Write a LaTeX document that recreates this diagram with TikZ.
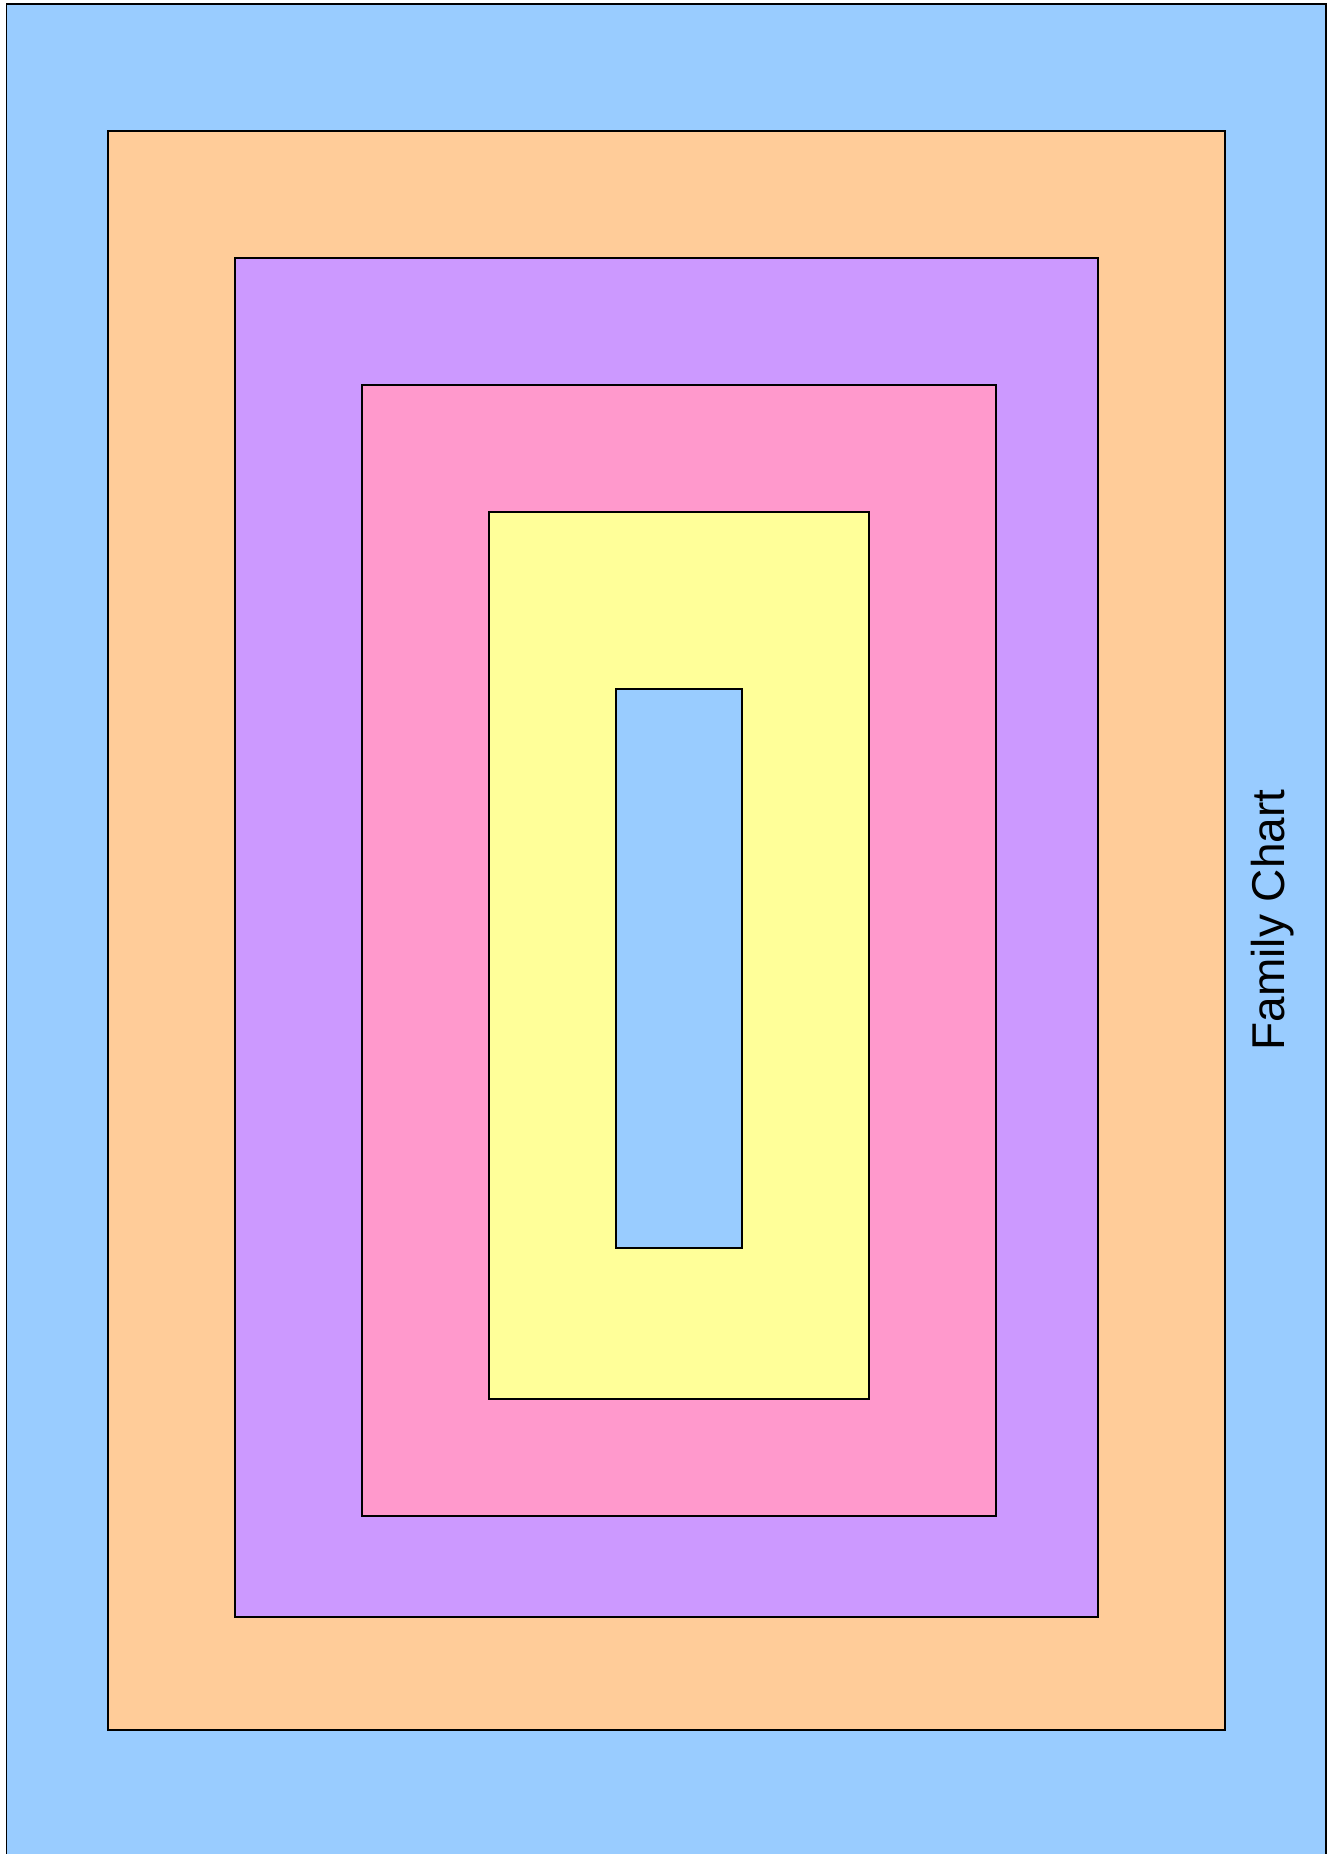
\documentclass[tikz,border=0pt]{standalone}
\usepackage{fontspec}
\setmainfont{Liberation Sans}
\definecolor{cblue}{HTML}{99CCFF}
\definecolor{corange}{HTML}{FFCC99}
\definecolor{cpurple}{HTML}{CC99FF}
\definecolor{cpink}{HTML}{FF99CC}
\definecolor{cyellow}{HTML}{FFFF99}
\tikzset{
  band/.style={draw=black, line width=1.6pt},
  title/.style={rotate=90, anchor=base, inner sep=0pt, font=\fontsize{46}{46}\selectfont}
}
\begin{document}
\begin{tikzpicture}[x=1pt,y=-1pt]
  \useasboundingbox (0,0) rectangle (1334,1854);
  \clip (0,0) rectangle (1334,1854);
  \fill[white] (0,0) rectangle (1334,1854);
  \draw[band, fill=cblue]    (6.5,4)   rectangle (1326,1880);
  \draw[band, fill=corange]  (108,131) rectangle (1225,1730);
  \draw[band, fill=cpurple]  (235,258) rectangle (1098,1617);
  \draw[band, fill=cpink]    (362,385) rectangle (996,1516);
  \draw[band, fill=cyellow]  (489,512) rectangle (869,1399);
  \draw[band, fill=cblue]    (616,689) rectangle (742,1248);
  \node[title] (label) at (1284,920) {Family Chart};
\end{tikzpicture}
\end{document}
